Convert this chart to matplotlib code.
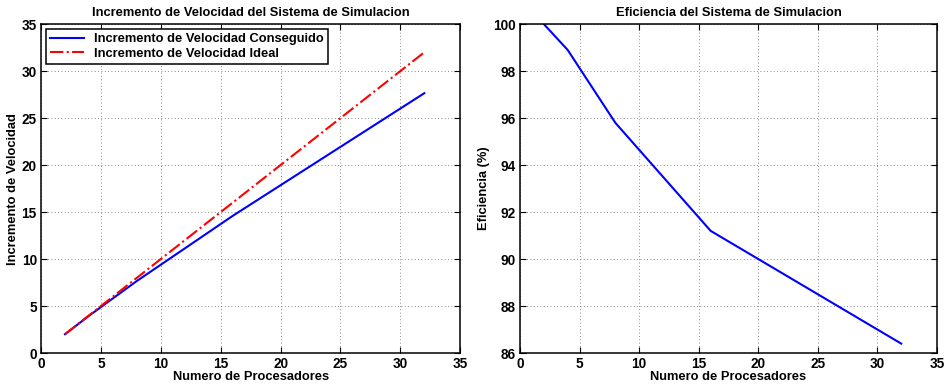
import matplotlib
matplotlib.use('Agg')
import matplotlib.pyplot as plt

# data
procesadores = [2, 4, 8, 16, 32]
eficiencia = [100.0, 98.9, 95.8, 91.2, 86.4]
speedup = [p * e / 100.0 for p, e in zip(procesadores, eficiencia)]
ideal = procesadores

plt.rcParams['font.family'] = ['Liberation Sans', 'DejaVu Sans']
plt.rcParams['font.weight'] = 'bold'
plt.rcParams['font.size'] = 9.3

TXT = 9.3
TICK = 9.8


def estilo(ax):
    ax.tick_params(direction='in', top=True, right=True, length=4, width=0.8, labelsize=TICK, pad=3)
    ax.grid(True, linestyle=(0, (1, 3)), color='#666666', linewidth=0.6)
    for s in ax.spines.values():
        s.set_linewidth(1.1)
    for lab in ax.get_xticklabels() + ax.get_yticklabels():
        lab.set_fontweight('bold')


fig = plt.figure(figsize=(9.45, 3.89), dpi=100)
ax1 = fig.add_axes([0.0434, 0.0925, 0.4436, 0.8455])
ax2 = fig.add_axes([0.5503, 0.0925, 0.4412, 0.8455])

ax1.plot(procesadores, speedup, color='blue', linewidth=1.5, label='Incremento de Velocidad Conseguido')
ax1.plot(procesadores, ideal, color='red', linestyle='-.', linewidth=1.5, label='Incremento de Velocidad Ideal')
ax1.set_xlim(0, 35)
ax1.set_ylim(0, 35)
ax1.set_xticks(range(0, 36, 5))
ax1.set_yticks(range(0, 36, 5))
ax1.set_xlabel('Numero de Procesadores', fontweight='bold', fontsize=TXT, labelpad=0)
ax1.set_ylabel('Incremento de Velocidad', fontweight='bold', fontsize=TXT, labelpad=2)
ax1.set_title('Incremento de Velocidad del Sistema de Simulacion', fontweight='bold', fontsize=TXT, pad=6)
leg = ax1.legend(loc='upper left', fancybox=False, edgecolor='black', framealpha=1,
                 borderaxespad=0.4, handlelength=2.6, prop={'weight': 'bold', 'size': TXT},
                 labelspacing=0.2, borderpad=0.3)
leg.get_frame().set_linewidth(1.1)
estilo(ax1)

ax2.plot(procesadores, eficiencia, color='blue', linewidth=1.5)
ax2.set_xlim(0, 35)
ax2.set_ylim(86, 100)
ax2.set_xticks(range(0, 36, 5))
ax2.set_yticks(range(86, 101, 2))
ax2.set_xlabel('Numero de Procesadores', fontweight='bold', fontsize=TXT, labelpad=0)
ax2.set_ylabel('Eficiencia (%)', fontweight='bold', fontsize=TXT, labelpad=2)
ax2.set_title('Eficiencia del Sistema de Simulacion', fontweight='bold', fontsize=TXT, pad=6)
estilo(ax2)

fig.savefig('out.png', dpi=100)
